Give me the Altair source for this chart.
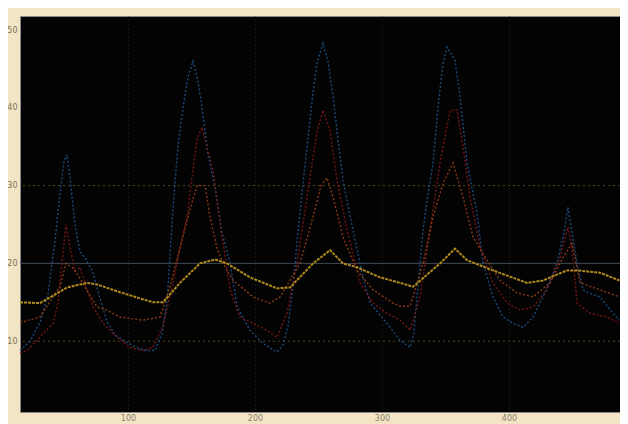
import altair as alt
import pandas as pd

# ---- data (x in time units, y in value units) ----
blue_x = [15, 23, 31, 37, 42.6, 46.5, 49.6, 52, 54.4, 58.3, 62.2, 67, 72, 78, 83.5, 89.8, 97.7, 105.5,
          113.4, 121.3, 126.8, 130.7, 133.1, 136.3, 139.4, 143.3, 147.3, 151.2, 154.4, 157.5, 163, 168.5,
          174, 180.4, 186, 196.1, 206.3, 217.4, 222, 226, 230, 233, 237, 241, 245, 248.9, 253.6, 257.5,
          261.5, 264.6, 269.3, 277.2, 285, 290.6, 304, 314.2, 322.1, 325, 327.6, 332.3, 336.3, 340.2,
          344.1, 348.1, 351.2, 357.5, 361.5, 367, 374.8, 379.6, 387.4, 395.3, 403.2, 411, 419, 426.8,
          437.8, 443.3, 446.4, 449.6, 453.6, 458.3, 465.4, 471.7, 481.9, 487]
blue_y = [8.8, 10, 12.5, 16, 23, 29, 33, 34, 31, 25, 21.5, 20.5, 19, 15.5, 12.5, 10.8, 10, 9.3,
          8.8, 8.8, 11, 15, 21, 29, 35, 40, 44, 46, 44, 41, 34, 29.8,
          24, 20, 14.4, 11.4, 9.7, 8.6, 9.5, 12, 17, 22.6, 29, 35, 41, 45.8, 48.3, 46,
          41.4, 37, 30.7, 24.3, 18.2, 14.9, 12.3, 10.1, 9.2, 11, 15.7, 24.3, 29, 32.9,
          40, 45.8, 47.8, 46.1, 41.4, 32.9, 26.5, 20, 15.7, 13.1, 12.3, 11.8, 13.1, 15.7,
          20, 24, 27.2, 24, 20, 16.6, 16, 15.7, 13.6, 12.7]

red_x = [15, 20.5, 30.7, 41, 45, 48, 51.2, 54.4, 58.3, 62.2, 67, 72.5, 80.4, 91.4, 101.6, 111.9,
         119.7, 127.6, 135.5, 141, 146.5, 150.4, 154.4, 158.3, 162.2, 167, 172.5, 180.4, 188.2,
         198.5, 209.5, 217.4, 225.2, 233, 241, 248.9, 253.6, 259.1, 264.6, 272.5, 282.7, 293, 304,
         314.2, 322.1, 330, 337.8, 345.7, 353.6, 359.1, 363.8, 369.3, 377.2, 387.4, 398.5, 408.7,
         419, 430, 440.2, 446.4, 449.6, 453.6, 463.8, 477.2, 487]
red_y = [8.5, 8.8, 10.5, 12.3, 15, 20, 25, 22, 19, 19.5, 17, 14.4, 12.3, 10.5, 9.2, 8.8,
         9.2, 12, 17.5, 22, 26, 31, 36, 37.5, 35, 32, 25.2, 16.6, 13.1,
         12.3, 11.4, 10.5, 13.6, 20, 28.5, 37, 39.7, 37, 30.7, 24.3, 17.5, 14.9, 13.6,
         12.7, 11.4, 15.7, 24.3, 32.9, 39.7, 39.7, 35, 28.5, 22.1, 17.5, 14.9, 14,
         14.4, 16.6, 20.8, 24.7, 22, 14.9, 13.6, 13.1, 12.3]

orange_x = [15, 30.7, 41, 46.5, 51.2, 56, 60.7, 66, 75.6, 83.5, 93.7, 111.9, 125.2, 133.1, 141,
            148.9, 154.4, 160.7, 164.6, 170, 174.8, 182.7, 198.5, 211.9, 219.7, 235.5, 245.7, 252,
            256.7, 261.5, 269.3, 280.4, 293, 308.7, 314.2, 322.1, 332.3, 340.2, 348.1, 356, 363.8,
            371.7, 382.7, 393, 406.4, 419, 432.3, 442.6, 449.6, 456, 471.7, 487]
orange_y = [12.4, 13.1, 15.7, 17, 20, 19.5, 18.5, 17, 14.4, 14, 13.1, 12.7, 13.1, 17, 22,
            27, 30, 30, 26, 22, 20, 17.8, 15.7, 14.9, 15.7, 20, 26, 30,
            31, 28.5, 23.4, 19.1, 16.6, 14.9, 14.5, 14.5, 20, 26, 30.3, 32.9, 28.5,
            23.4, 20.4, 17.8, 16.2, 15.7, 17.5, 20.8, 22.6, 17.5, 16.6, 15.7]

yellow_x = [15, 30.7, 42.6, 52, 67.8, 75.6, 93.7, 109.5, 120, 127.6, 141, 156.7, 168.5, 178, 196.1,
            217.4, 227.6, 245.7, 259.1, 269.3, 280.4, 298.5, 314.2, 324.5, 345.7, 357.5, 367, 387.4,
            414.2, 426.8, 445.6, 453.6, 471.7, 487]
yellow_y = [15, 14.9, 16, 16.9, 17.5, 17.3, 16.3, 15.5, 15, 15, 17.5, 20, 20.5, 20, 18.2,
            16.8, 16.9, 20, 21.7, 20, 19.5, 18.2, 17.5, 17, 20, 21.9, 20.4, 19.1,
            17.5, 17.8, 19.1, 19.1, 18.8, 17.8]

series_names = ["Blue", "Red", "Orange", "Yellow"]
series_colors = ["#1f5690", "#8a1a1a", "#a04416", "#b08a1c"]

x_ticks = [100, 200, 300, 400]
y_ticks = [10, 20, 30, 40, 50]
grid_dotted = [10, 30]
grid_solid = [20]

frames = []
for name, xs, ys in [("Blue", blue_x, blue_y), ("Red", red_x, red_y), ("Orange", orange_x, orange_y)]:
    frames.append(pd.DataFrame({"t": xs, "v": ys, "series": name}))
df_main = pd.concat(frames, ignore_index=True)
df_yellow = pd.DataFrame({"t": yellow_x, "v": yellow_y, "series": "Yellow"})

x_scale = alt.Scale(domain=[15, 487.4], nice=False, zero=False)
y_scale = alt.Scale(domain=[0.9, 51.8], nice=False, zero=False)
color_scale = alt.Scale(domain=series_names, range=series_colors)

x_enc = alt.X("t:Q", scale=x_scale,
              axis=alt.Axis(values=x_ticks, title=None, grid=True, gridColor="#262626",
                            gridDash=[1, 3], ticks=False, domain=False, labelFontSize=8,
                            labelColor="#8a8070", labelPadding=2, labelFont="DejaVu Sans"))
y_enc = alt.Y("v:Q", scale=y_scale,
              axis=alt.Axis(values=y_ticks, title=None, grid=False, ticks=False, domain=False,
                            labelFontSize=8, labelColor="#7a7060", labelPadding=3,
                            labelFont="DejaVu Sans"))

grid_a = alt.Chart(pd.DataFrame({"v": grid_dotted})).mark_rule(
    color="#4e4818", strokeDash=[2, 3], strokeWidth=1
).encode(y=alt.Y("v:Q", scale=y_scale))
grid_b = alt.Chart(pd.DataFrame({"v": grid_solid})).mark_rule(
    color="#3e4a56", strokeWidth=1
).encode(y=alt.Y("v:Q", scale=y_scale))

lines = alt.Chart(df_main).mark_line(strokeDash=[2, 2], strokeWidth=1.4, opacity=0.85).encode(
    x=x_enc, y=y_enc,
    color=alt.Color("series:N", scale=color_scale, legend=None),
)
yellow = alt.Chart(df_yellow).mark_line(strokeDash=[3, 1], strokeWidth=2).encode(
    x=alt.X("t:Q", scale=x_scale), y=alt.Y("v:Q", scale=y_scale),
    color=alt.Color("series:N", scale=color_scale, legend=None),
)

chart = alt.layer(grid_a, grid_b, lines, yellow).properties(
    width=600, height=396,
    autosize=alt.AutoSizeParams(type="none"),
    padding={"left": 12, "top": 8, "right": 0, "bottom": 12},
    background="#f3e4c4",
).configure_view(fill="#030303", stroke="#8a8a8a", strokeWidth=1)

chart.save("out.html", embed_options={"renderer": "svg", "actions": False})
